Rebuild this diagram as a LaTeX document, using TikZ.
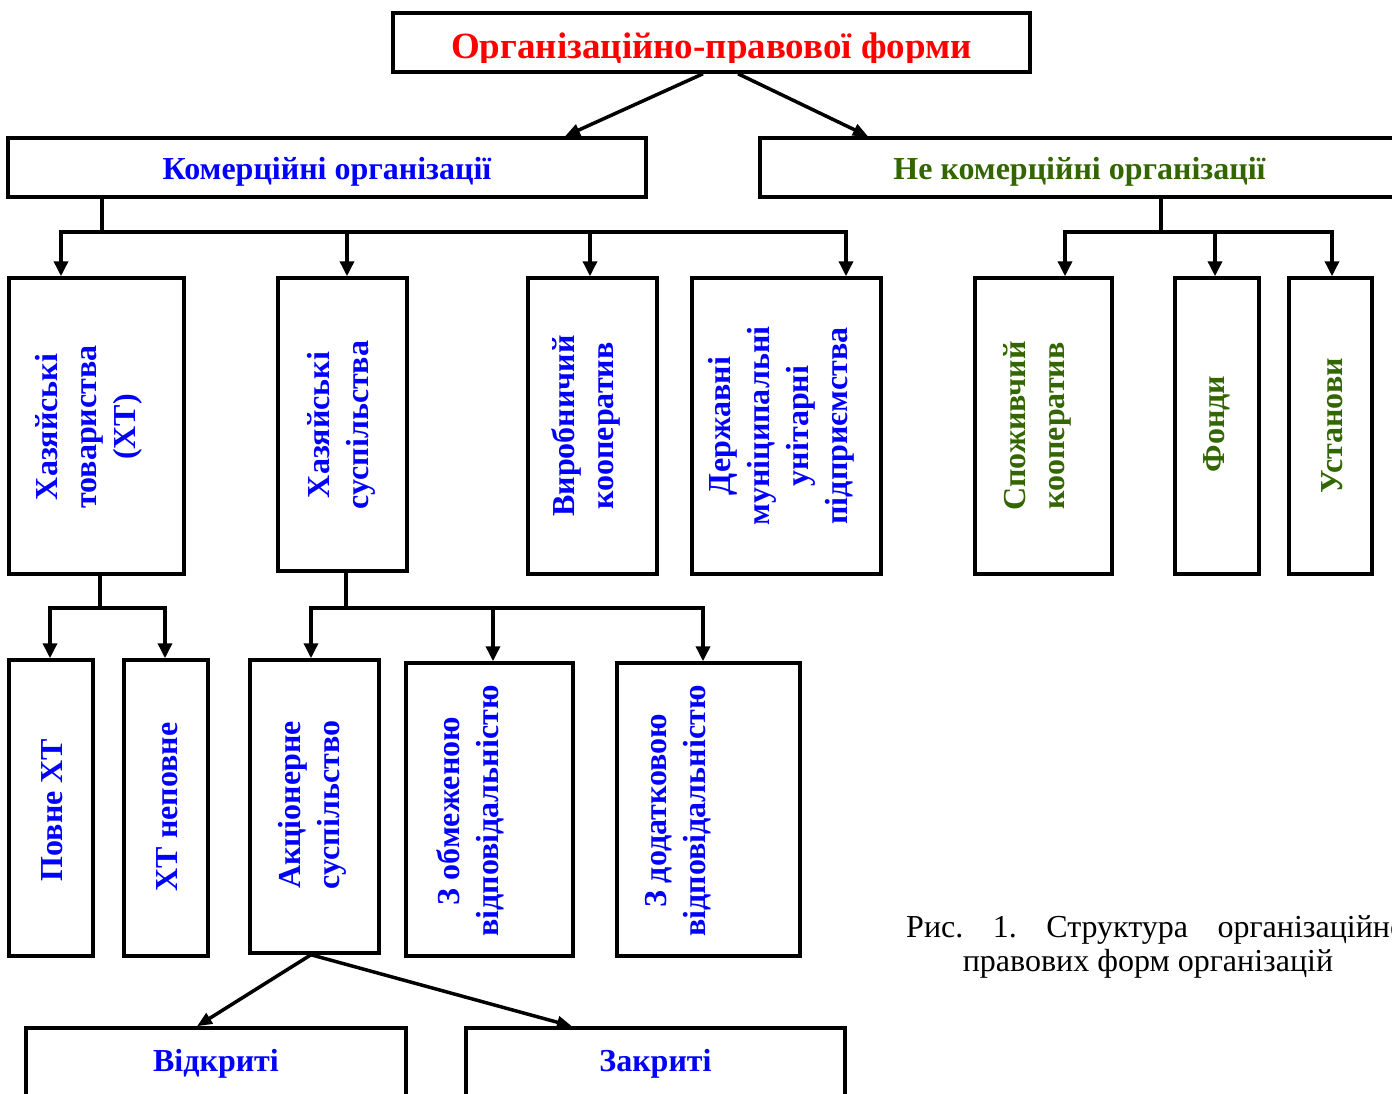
\documentclass[tikz,border=0pt]{standalone}
\usepackage{fontspec}
\setmainfont{Liberation Serif}
\usetikzlibrary{
  arrows.meta,
  calc
}
\definecolor{titlered}{RGB}{255,0,0}
\definecolor{orgblue}{RGB}{0,0,255}
\definecolor{orggreen}{RGB}{51,102,0}
\tikzset{
  box/.style={draw=black,line width=3.5pt,fill=white,inner sep=0pt},
  link/.style={line width=3.5pt,draw=black},
  flow/.style={link,-{Triangle[length=15pt,width=14pt]}},
  slant flow/.style={link,-{Triangle[length=15pt,width=12pt]}},
  htext/.style={font=\bfseries\fontsize{32}{37}\selectfont,anchor=base,inner sep=0pt},
  vtext/.style={font=\bfseries\fontsize{32}{39}\selectfont,rotate=90,align=center,inner sep=0pt},
  caption/.style={font=\fontsize{32}{36}\selectfont,inner sep=0pt}
}
\newcommand{\orgbox}[5]{%
  \node[box,minimum width={(#4-#2)*1pt},minimum height={(#5-#3)*1pt}] (#1) at ({(#2+#4)/2},{(#3+#5)/2}) {};%
}

\begin{document}
\begin{tikzpicture}[x=1pt,y=-1pt]
  \useasboundingbox (0,0) rectangle (1392,1093);

  % top levels
  \orgbox{title}{393}{13}{1030}{72}
  \orgbox{kom}{8}{138}{646}{197}
  \orgbox{nekom}{760}{138}{1399}{197}
  \begin{scope}
    \clip (393,13) rectangle (1030,62);
    \node[htext,font=\bfseries\fontsize{37}{42}\selectfont,text=titlered] (title-text) at (711.5,58) {Організаційно-правової форми};
  \end{scope}
  \node[htext,text=orgblue] (kom-text) at (327,179) {Комерційні організації};
  \node[htext,text=orggreen] (nekom-text) at (1079.5,179) {Не комерційні організації};

  % second level
  \orgbox{ht}{9}{278}{184}{574}
  \orgbox{hs}{278}{278}{407}{571}
  \orgbox{vk}{528}{278}{657}{574}
  \orgbox{dp}{692}{278}{881}{574}
  \orgbox{sk}{975}{278}{1112}{574}
  \orgbox{fd}{1175}{278}{1259}{574}
  \orgbox{us}{1289}{278}{1372}{574}
  \node[vtext,text=orgblue] (ht-text) at (89,427) {Хазяйські\\товариства\\(ХТ)};
  \node[vtext,text=orgblue] (hs-text) at (341,425) {Хазяйські\\суспільства};
  \node[vtext,text=orgblue] (vk-text) at (586,426) {Виробничий\\кооператив};
  \node[vtext,text=orgblue] (dp-text) at (781,426) {Державні\\муніципальні\\унітарні\\підприємства};
  \node[vtext,text=orggreen] (sk-text) at (1037,426) {Споживчий\\кооператив};
  \node[vtext,text=orggreen] (fd-text) at (1217,424) {Фонди};
  \node[vtext,text=orggreen] (us-text) at (1332,426) {Установи};

  % third level
  \orgbox{pht}{9}{660}{93}{956}
  \orgbox{htn}{124}{660}{208}{956}
  \orgbox{ak}{250}{660}{379}{953}
  \orgbox{zo}{406}{663}{573}{956}
  \orgbox{zd}{617}{663}{800}{956}
  \node[vtext,text=orgblue] (pht-text) at (52,810) {Повне ХТ};
  \node[vtext,text=orgblue] (htn-text) at (167,807) {ХТ неповне};
  \node[vtext,text=orgblue] (ak-text) at (312,805) {Акціонерне\\суспільство};
  \node[vtext,text=orgblue] (zo-text) at (470,811) {З обмеженою\\відповідальністю};
  \node[vtext,text=orgblue] (zd-text) at (678,811) {З додатковою\\відповідальністю};

  % fourth level
  \orgbox{ot}{26}{1028}{406}{1110}
  \orgbox{zt}{466}{1028}{845}{1110}
  \node[htext,text=orgblue] (ot-text) at (216,1071) {Відкриті};
  \node[htext,text=orgblue] (zt-text) at (655.5,1071) {Закриті};

  % caption
  \node[caption,anchor=base west] (cap1) at (906,937)
    {Рис.\hspace{29.5pt}1.\hspace{29.5pt}Структура\hspace{29.5pt}організаційно-};
  \node[caption,anchor=base] (cap2) at (1148,971) {правових форм організацій};

  % connectors
  \draw[slant flow] ([xshift=-8.5pt]title.south) -- ([xshift=238pt]kom.north);
  \draw[slant flow] ([xshift=26.5pt]title.south) -- ([xshift=-211.5pt]nekom.north);

  \coordinate (kstem) at (102,232);
  \draw[link] (kstem |- kom.south) -- (kstem);
  \foreach \target/\dx in {ht/-35.5,hs/4.5,vk/-2.5,dp/59.5}
    \draw[flow] (kstem) -| ([xshift=\dx pt]\target.north);

  \coordinate (nstem) at (1161,232);
  \draw[link] (nstem |- nekom.south) -- (nstem);
  \foreach \target/\dx in {sk/21.5,fd/-2,us/1.5}
    \draw[flow] (nstem) -| ([xshift=\dx pt]\target.north);

  \coordinate (htstem) at (100,608);
  \draw[link] (htstem |- ht.south) -- (htstem);
  \foreach \target/\dx in {pht/-1,htn/-1}
    \draw[flow] (htstem) -| ([xshift=\dx pt]\target.north);

  \coordinate (hsstem) at (346,608);
  \draw[link] (hsstem |- hs.south) -- (hsstem);
  \foreach \target/\dx in {ak/-3.5,zo/3.5,zd/-5.5}
    \draw[flow] (hsstem) -| ([xshift=\dx pt]\target.north);

  \draw[slant flow] ([xshift=-3.5pt]ak.south) -- ([xshift=-19pt]ot.north);
  \draw[slant flow] ([xshift=-3.5pt]ak.south) -- ([xshift=-83.5pt]zt.north);
\end{tikzpicture}
\end{document}
